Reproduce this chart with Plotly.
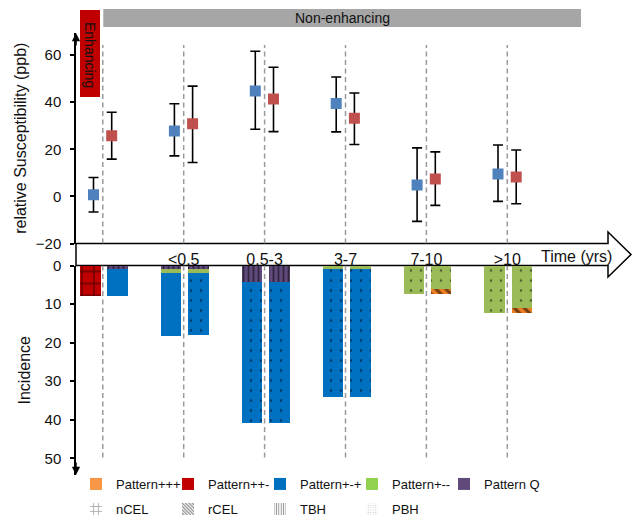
import plotly.graph_objects as go

# ---------------- data ----------------
groups = ["Enhancing", "<0.5", "0.5-3", "3-7", "7-10", ">10"]
time_labels = ["<0.5", "0.5-3", "3-7", "7-10", ">10"]
time_tick_groups = [1, 2, 3, 4, 5]

# relative susceptibility (ppb): marker value and error-bar ends
sus_blue_mean = [0.7, 27.8, 44.7, 39.4, 4.8, 9.5]
sus_blue_high = [8.0, 39.3, 61.6, 50.7, 20.6, 21.8]
sus_blue_low = [-6.6, 17.2, 28.5, 27.4, -10.6, -2.1]
sus_red_mean = [25.7, 30.8, 41.3, 33.2, 7.4, 8.2]
sus_red_high = [35.7, 46.8, 54.8, 43.9, 18.9, 19.7]
sus_red_low = [15.8, 14.4, 27.5, 22.0, -3.8, -3.1]

# incidence: stacked segments, left bar and right bar of every group
inc_q_left = [0, 0.8, 4.2, 0, 0, 0]
inc_q_right = [0.8, 0.8, 4.2, 0, 0, 0]
inc_pmm_left = [0, 1.1, 0, 0.8, 7.2, 12.1]
inc_pmm_right = [0, 1.1, 0, 0.8, 5.9, 10.8]
inc_pmp_left = [0, 16.3, 36.6, 33.3, 0, 0]
inc_pmp_right = [7.0, 16.1, 36.6, 33.3, 0, 0]
inc_ppm_left = [7.8, 0, 0, 0, 0, 0]
inc_ppm_right = [0, 0, 0, 0, 0, 0]
inc_ppp_left = [0, 0, 0, 0, 0, 0]
inc_ppp_right = [0, 0, 0, 0, 1.3, 1.3]

# hatch category of every segment
hatch_q_left = ["", "TBH", "TBH", "", "", ""]
hatch_q_right = ["TBH", "TBH", "TBH", "", "", ""]
hatch_pmm_left = ["", "", "", "PBH", "PBH", "PBH"]
hatch_pmm_right = ["", "", "", "PBH", "PBH", "PBH"]
hatch_pmp_left = ["", "", "PBH", "PBH", "", ""]
hatch_pmp_right = ["", "PBH", "PBH", "PBH", "", ""]
hatch_ppm_left = ["nCEL", "", "", "", "", ""]
hatch_ppm_right = ["", "", "", "", "", ""]
hatch_ppp_left = ["", "", "", "", "", ""]
hatch_ppp_right = ["", "", "", "", "rCEL", "rCEL"]

pattern_names = ["Pattern+++", "Pattern++-", "Pattern+-+", "Pattern+--", "Pattern Q"]
hatch_names = ["nCEL", "rCEL", "TBH", "PBH"]

# ---------------- styles ----------------
FONT = "Liberation Sans, Arial, Helvetica, sans-serif"
legend_colors = {"Pattern+++": "#F79646", "Pattern++-": "#C00000", "Pattern+-+": "#0070C0",
                 "Pattern+--": "#92D050", "Pattern Q": "#604A7B"}
bar_colors = {"Pattern+++": "#EE7F22", "Pattern++-": "#C00000", "Pattern+-+": "#0070C0",
              "Pattern+--": "#9BBB59", "Pattern Q": "#604A7B"}
HATCH = {"": ("", 8, 0.3), "nCEL": ("+", 12, 0.2), "rCEL": ("\\", 7, 0.45),
         "TBH": ("|", 5, 0.35), "PBH": (".", 10, 0.05)}
HATCH_LEGEND = {"nCEL": ("+", 6, 0.3, "#444444"), "rCEL": ("\\", 3, 0.5, "#111111"),
                "TBH": ("|", 3, 0.4, "#222222"), "PBH": (".", 3, 0.2, "#999999")}

W, H = 637, 517
ML, MR, MT, MB = 76, 5, 33, 42
PW, PH = W - ML - MR, H - MT - MB
def fx(px):
    return (px - ML) / PW
def fy(py):
    return (H - MB - py) / PH

GROUP0_PX, GROUP_STEP_PX = 102.8, 80.9
x_range = [(ML - GROUP0_PX) / GROUP_STEP_PX, (W - MR - GROUP0_PX) / GROUP_STEP_PX]
TOP_Y0_PX, TOP_SCALE = 243.5, 2.356
BOT_Y0_PX, BOT_SCALE = 265.5, 3.856
y_range = [-20, -20 + (TOP_Y0_PX - MT) / TOP_SCALE]
y2_range = [(H - MB - BOT_Y0_PX) / BOT_SCALE, 0]

OFF_BLUE, OFF_RED = -0.115, 0.110
OFF_LEFT, OFF_RIGHT, BAR_W = -0.155, 0.182, 0.254

idx = list(range(len(groups)))
fig = go.Figure()

# ---------------- susceptibility points ----------------
for mean, hi, lo, off, col in [(sus_blue_mean, sus_blue_high, sus_blue_low, OFF_BLUE, "#4F81BD"),
                               (sus_red_mean, sus_red_high, sus_red_low, OFF_RED, "#C0504D")]:
    fig.add_trace(go.Scatter(
        x=[i + off for i in idx], y=mean, mode="markers", showlegend=False,
        marker=dict(symbol="square", size=11, color=col, line=dict(width=0)),
        error_y=dict(type="data", symmetric=False,
                     array=[h - m for h, m in zip(hi, mean)],
                     arrayminus=[m - l for m, l in zip(mean, lo)],
                     color="black", thickness=1.6, width=5),
        xaxis="x", yaxis="y"))

# ---------------- incidence bars ----------------
segments = [("Pattern Q", inc_q_left, inc_q_right, hatch_q_left, hatch_q_right),
            ("Pattern+--", inc_pmm_left, inc_pmm_right, hatch_pmm_left, hatch_pmm_right),
            ("Pattern+-+", inc_pmp_left, inc_pmp_right, hatch_pmp_left, hatch_pmp_right),
            ("Pattern++-", inc_ppm_left, inc_ppm_right, hatch_ppm_left, hatch_ppm_right),
            ("Pattern+++", inc_ppp_left, inc_ppp_right, hatch_ppp_left, hatch_ppp_right)]
for name, left, right, hl, hr in segments:
    xs = [i + OFF_LEFT for i in idx] + [i + OFF_RIGHT for i in idx]
    vals = [v if v else None for v in left + right]
    hs = hl + hr
    fig.add_trace(go.Bar(
        x=xs, y=vals, width=BAR_W, showlegend=False, name=name,
        marker=dict(color=bar_colors[name], line=dict(width=0),
                    pattern=dict(shape=[HATCH[h][0] for h in hs],
                                 size=[HATCH[h][1] for h in hs],
                                 solidity=[HATCH[h][2] for h in hs],
                                 fgcolor="black", bgcolor=bar_colors[name],
                                 fillmode="overlay")),
        xaxis="x2", yaxis="y2"))

# legend entries
for name in pattern_names:
    fig.add_trace(go.Bar(x=[None], y=[None], name=name, legend="legend",
                         marker=dict(color=legend_colors[name], line=dict(width=0)),
                         xaxis="x2", yaxis="y2"))
# invisible spacer so the last legend label is not clipped
fig.add_trace(go.Bar(x=[None], y=[None], name=" ", legend="legend",
                     marker=dict(color="rgba(0,0,0,0)", line=dict(width=0)),
                     xaxis="x2", yaxis="y2"))
for name in hatch_names:
    shp, sz, sol, fg = HATCH_LEGEND[name]
    fig.add_trace(go.Bar(x=[None], y=[None], name=name, legend="legend2",
                         marker=dict(color="white", line=dict(width=0),
                                     pattern=dict(shape=shp, size=sz, solidity=sol,
                                                  fgcolor=fg, bgcolor="white",
                                                  fillmode="overlay")),
                         xaxis="x2", yaxis="y2"))

# ---------------- shapes ----------------
shapes = []
for i in idx:
    shapes.append(dict(type="line", xref="x", yref="y", x0=i, x1=i, y0=-20, y1=64.2,
                       line=dict(color="#9a9a9a", width=1.5, dash="5px,3.5px"), layer="below"))
    shapes.append(dict(type="line", xref="x2", yref="y2", x0=i, x1=i, y0=0, y1=50,
                       line=dict(color="#9a9a9a", width=1.5, dash="5px,3.5px"), layer="below"))
arrow = (f"M {fx(ML)},{fy(243.5)} L {fx(608)},{fy(243.5)} L {fx(608)},{fy(232)} "
         f"L {fx(631)},{fy(254.5)} L {fx(608)},{fy(277)} L {fx(608)},{fy(265.5)} "
         f"L {fx(ML)},{fy(265.5)} Z")
shapes.append(dict(type="path", xref="paper", yref="paper", path=arrow,
                   line=dict(color="black", width=1.5), fillcolor="white", layer="below"))
shapes.append(dict(type="rect", xref="paper", yref="paper", x0=fx(103.3), x1=fx(581),
                   y0=fy(27), y1=fy(9), fillcolor="#A6A6A6", line=dict(width=0), layer="above"))
shapes.append(dict(type="rect", xref="paper", yref="paper", x0=fx(80), x1=fx(100),
                   y0=fy(97), y1=fy(10), fillcolor="#C00000", line=dict(width=0), layer="above"))

centered = dict(xref="paper", yref="paper", xanchor="center", yanchor="middle", showarrow=False)
annotations = [
    dict(text="Time (yrs)", x=fx(576.7), y=fy(256.5),
         font=dict(size=16, color="#111111", family=FONT), **centered),
    dict(text="Non-enhancing", x=fx(342.2), y=fy(18),
         font=dict(size=14, color="#111111", family=FONT), **centered),
    dict(text="Enhancing", x=fx(90), y=fy(55), textangle=90,
         font=dict(size=14, color="#111111", family=FONT), **centered),
    dict(text="", x=0, y=1, xref="paper", yref="paper", ax=0, ay=14, showarrow=True,
         arrowhead=2, arrowsize=1.1, arrowwidth=1.5, arrowcolor="black", standoff=0),
    dict(text="", x=0, y=0, xref="paper", yref="paper", ax=0, ay=-14, showarrow=True,
         arrowhead=2, arrowsize=1.1, arrowwidth=1.5, arrowcolor="black", standoff=0),
]

yaxis_common = dict(showgrid=False, zeroline=False, showline=True, linecolor="black",
                    linewidth=1.5, ticks="outside", ticklen=4, tickwidth=1.5,
                    tickcolor="black", ticklabelstandoff=6,
                    tickfont=dict(size=15, color="#111111", family=FONT))

legend_common = dict(orientation="h", xref="container", yref="container",
                     x=76 / W, xanchor="left", yanchor="middle", traceorder="normal",
                     entrywidth=47, entrywidthmode="pixels", bgcolor="rgba(0,0,0,0)",
                     font=dict(size=13, color="#111111", family=FONT), tracegroupgap=0)

fig.update_layout(
    width=W, height=H, margin=dict(l=ML, r=MR, t=MT, b=MB, autoexpand=False),
    paper_bgcolor="white", plot_bgcolor="rgba(0,0,0,0)",
    font=dict(family=FONT, color="#111111"),
    barmode="stack", bargap=0,
    xaxis=dict(domain=[0, 1], range=x_range, anchor="y", showgrid=False, zeroline=False,
               showline=False, ticks="", tickvals=time_tick_groups, ticktext=time_labels,
               ticklabelstandoff=4, tickfont=dict(size=16, color="#111111", family=FONT)),
    xaxis2=dict(domain=[0, 1], range=x_range, anchor="y2", matches="x", visible=False),
    yaxis=dict(domain=[fy(TOP_Y0_PX), 1], range=y_range, anchor="x",
               tickvals=[-20, 0, 20, 40, 60],
               title=dict(text="relative Susceptibility (ppb)", standoff=5,
                          font=dict(size=16, color="#111111", family=FONT)),
               **yaxis_common),
    yaxis2=dict(domain=[0, fy(BOT_Y0_PX)], range=y2_range, anchor="x2",
                tickvals=[0, 10, 20, 30, 40, 50],
                title=dict(text="Incidence", standoff=10,
                           font=dict(size=16, color="#111111", family=FONT)),
                **yaxis_common),
    shapes=shapes, annotations=annotations,
    legend=dict(y=1 - 484 / H, **legend_common),
    legend2=dict(y=1 - 509 / H, **legend_common),
)

fig.write_html("out.html", config={"displayModeBar": False},
               post_script="document.body.style.margin='0';document.body.style.overflow='hidden';")
